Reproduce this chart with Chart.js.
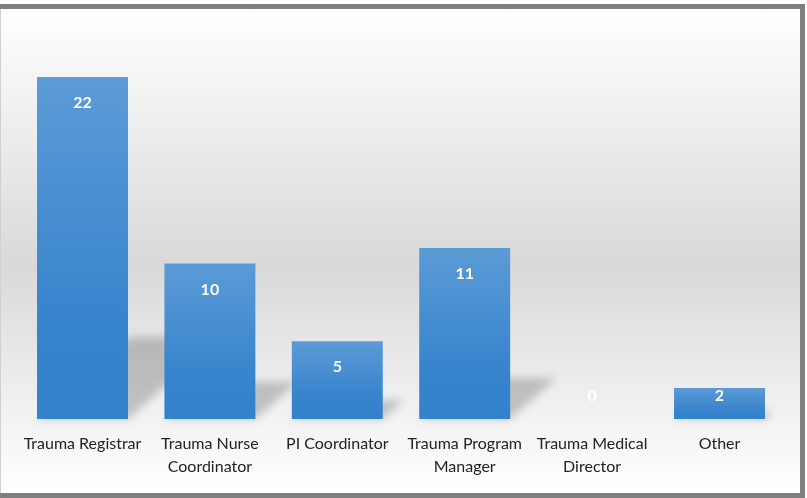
<!DOCTYPE html>
<html>
<head>
<meta charset="utf-8">
<script src="https://cdn.jsdelivr.net/npm/chart.js@4"></script>
<style>
  html, body { margin: 0; padding: 0; background: #ffffff; }
  #frame { position: absolute; left: 0; top: 4px; width: 805px; height: 494px; background: #7f7f7f; }
  #edge { position: absolute; left: 0; top: 9px; width: 1px; height: 484px; background: #d0d0d0; }
  #wrap { position: absolute; left: 1px; top: 9px; width: 799px; height: 484px;
          background: linear-gradient(to bottom, #ffffff 0%, #d9d9d9 53%, #ffffff 100%); }
  canvas { display: block; }
</style>
</head>
<body>
<div id="frame"></div>
<div id="edge"></div>
<div id="wrap"><canvas id="c" width="799" height="484"></canvas></div>
<script>
const categories = [
  ['Trauma Registrar'],
  ['Trauma Nurse', 'Coordinator'],
  ['PI Coordinator'],
  ['Trauma Program', 'Manager'],
  ['Trauma Medical', 'Director'],
  ['Other']
];
const counts = [22, 10, 5, 11, 0, 2];
const yMax = 25;

const shadowPlugin = {
  id: 'barShadow',
  beforeDatasetsDraw(chart) {
    const ctx = chart.ctx;
    const meta = chart.getDatasetMeta(0);
    ctx.save();
    ctx.filter = 'blur(4px)';
    ctx.fillStyle = 'rgba(0,0,0,0.2)';
    meta.data.forEach(el => {
      const h = el.base - el.y;
      if (h <= 0) return;
      const l = el.x - el.width / 2, r = el.x + el.width / 2;
      const dx = 0.27 * h, dy = 0.24 * h;
      ctx.beginPath();
      ctx.moveTo(l, el.base);
      ctx.lineTo(r, el.base);
      ctx.lineTo(r + dx, el.base - dy);
      ctx.lineTo(l + dx, el.base - dy);
      ctx.closePath();
      ctx.fill();
    });
    ctx.restore();
  }
};

const labelPlugin = {
  id: 'barLabels',
  afterDatasetsDraw(chart) {
    const ctx = chart.ctx;
    const meta = chart.getDatasetMeta(0);
    ctx.save();
    ctx.font = 'bold 16px Lato';
    ctx.fillStyle = '#ffffff';
    ctx.textAlign = 'center';
    ctx.textBaseline = 'middle';
    meta.data.forEach((el, i) => {
      const y = Math.min(el.y + 26, el.base - 23);
      ctx.fillText(String(counts[i]), el.x, y);
    });
    ctx.restore();
  }
};

new Chart(document.getElementById('c'), {
  type: 'bar',
  data: {
    labels: categories,
    datasets: [{
      data: counts,
      borderWidth: 0,
      backgroundColor: (c) => {
        const ch = c.chart;
        if (!ch.chartArea || !ch.scales.y) return '#4a8fd2';
        const ys = ch.scales.y;
        const top = ys.getPixelForValue(c.raw);
        const bot = ys.getPixelForValue(0);
        if (!(bot > top)) return '#4a8fd2';
        const g = ch.ctx.createLinearGradient(0, top, 0, bot);
        g.addColorStop(0, '#5b9bd6');
        g.addColorStop(0.7, '#3884cd');
        g.addColorStop(1, '#3382cc');
        return g;
      },
      categoryPercentage: 1,
      barPercentage: 0.714
    }]
  },
  options: {
    responsive: false,
    animation: false,
    devicePixelRatio: 1,
    layout: { padding: { left: 17.8, right: 16.8, top: 21.4, bottom: 0 } },
    plugins: { legend: { display: false }, tooltip: { enabled: false } },
    scales: {
      x: {
        grid: { display: false, drawTicks: false },
        border: { display: false },
        ticks: {
          color: '#222222',
          font: { family: 'Lato', size: 16, lineHeight: 1.4 },
          padding: 14,
          maxRotation: 0,
          autoSkip: false
        },
        afterFit: (s) => { s.height = 74; }
      },
      y: {
        display: false,
        min: 0,
        max: yMax
      }
    }
  },
  plugins: [shadowPlugin, labelPlugin]
});
</script>
</body>
</html>
